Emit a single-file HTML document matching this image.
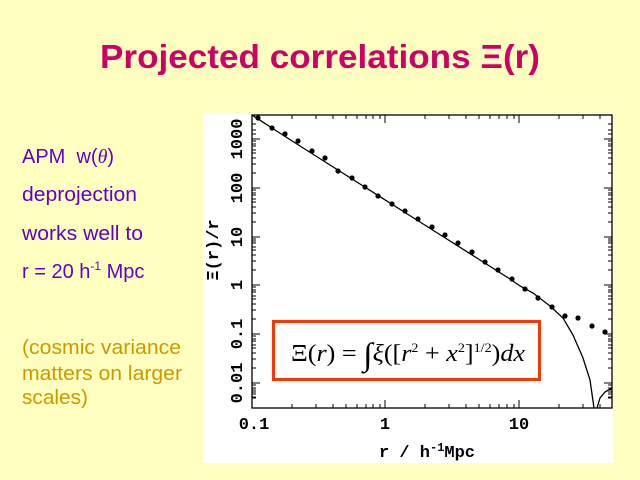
<!DOCTYPE html>
<html><head><meta charset="utf-8"><style>
html,body{margin:0;padding:0;background:#ffffc0;}
svg{display:block;}
</style></head><body>
<svg width="640" height="480" viewBox="0 0 640 480" xmlns="http://www.w3.org/2000/svg">
<rect width="640" height="480" fill="#ffffc0"/>
<text x="320" y="68" text-anchor="middle" font-family="Liberation Sans, sans-serif" font-weight="bold" font-size="33" fill="#cc0066" textLength="440" lengthAdjust="spacingAndGlyphs">Projected correlations Ξ(r)</text>
<g font-family="Liberation Sans, sans-serif" font-size="20" fill="#6600cc">
<text x="22" y="163">APM&#160;&#160;w(<tspan font-family="Liberation Serif, serif" font-style="italic">θ</tspan>)</text>
<text x="22" y="201" textLength="115" lengthAdjust="spacingAndGlyphs">deprojection</text>
<text x="22" y="240" textLength="121" lengthAdjust="spacingAndGlyphs">works well to</text>
<text x="22" y="278">r = 20 h<tspan font-size="12" dy="-8">-1</tspan><tspan dy="8"> Mpc</tspan></text>
</g>
<g font-family="Liberation Sans, sans-serif" font-size="20" fill="#cc9900">
<text x="22" y="354" textLength="159" lengthAdjust="spacingAndGlyphs">(cosmic variance</text>
<text x="22" y="380" textLength="160" lengthAdjust="spacingAndGlyphs">matters on larger</text>
<text x="22" y="404" textLength="66" lengthAdjust="spacingAndGlyphs">scales)</text>
</g>
<rect x="203" y="113" width="410" height="350" fill="#ffffff"/>
<g stroke="#000" stroke-width="1.3" fill="none">
<rect x="252" y="115" width="360" height="293"/>
<path d="M252,115 L275,130 L300,146 L330,165 L360,184 L390,203 L420,222 L450,241 L480,260 L510,279 L520,286 L533,293 L550,306 L563,318 L573,335 L583,358 L590,380 L594,408"/>
<path d="M597,408 L600,398 L605,392 L612,388"/>
</g>
<g stroke="#000" stroke-width="1">
<path d="M385,408v-8M519,408v-8M385,115v8M519,115v8"/>
<path d="M292,408v-4M316,408v-4M333,408v-4M346,408v-4M357,408v-4M366,408v-4M373,408v-4M380,408v-4M425,408v-4M449,408v-4M466,408v-4M479,408v-4M490,408v-4M499,408v-4M507,408v-4M514,408v-4M559,408v-4M583,408v-4M600,408v-4
M292,115v4M316,115v4M333,115v4M346,115v4M357,115v4M366,115v4M373,115v4M380,115v4M425,115v4M449,115v4M466,115v4M479,115v4M490,115v4M499,115v4M507,115v4M514,115v4M559,115v4M583,115v4M600,115v4"/>
<path d="M252,139h8M252,188h8M252,237h8M252,285h8M252,334h8M252,383h8M612,139h-8M612,188h-8M612,237h-8M612,285h-8M612,334h-8M612,383h-8"/>
<path d="M252,124h4M252,130h4M252,134h4M252,173h4M252,164h4M252,158h4M252,153h4M252,150h4M252,146h4M252,144h4M252,141h4
M252,222h4M252,213h4M252,207h4M252,202h4M252,199h4M252,195h4M252,193h4M252,190h4
M252,270h4M252,261h4M252,255h4M252,250h4M252,247h4M252,243h4M252,241h4M252,239h4
M252,319h4M252,310h4M252,304h4M252,299h4M252,296h4M252,292h4M252,290h4M252,287h4
M252,368h4M252,359h4M252,353h4M252,348h4M252,345h4M252,341h4M252,339h4M252,336h4
M252,398h4M252,392h4M252,397h4M252,394h4M252,390h4M252,388h4M252,385h4
M612,124h-4M612,130h-4M612,134h-4M612,173h-4M612,164h-4M612,158h-4M612,153h-4M612,150h-4M612,146h-4M612,144h-4M612,141h-4
M612,222h-4M612,213h-4M612,207h-4M612,202h-4M612,199h-4M612,195h-4M612,193h-4M612,190h-4
M612,270h-4M612,261h-4M612,255h-4M612,250h-4M612,247h-4M612,243h-4M612,241h-4M612,239h-4
M612,319h-4M612,310h-4M612,304h-4M612,299h-4M612,296h-4M612,292h-4M612,290h-4M612,287h-4
M612,368h-4M612,359h-4M612,353h-4M612,348h-4M612,345h-4M612,341h-4M612,339h-4M612,336h-4
M612,398h-4M612,392h-4M612,397h-4M612,394h-4M612,390h-4M612,388h-4M612,385h-4"/>
</g>
<g fill="#000">
<circle cx="258" cy="118" r="2.6"/><circle cx="272" cy="128" r="2.6"/><circle cx="285" cy="134" r="2.6"/><circle cx="298" cy="141" r="2.6"/><circle cx="312" cy="151" r="2.6"/><circle cx="325" cy="158" r="2.6"/><circle cx="338" cy="171" r="2.6"/><circle cx="352" cy="178" r="2.6"/><circle cx="365" cy="187" r="2.6"/><circle cx="378" cy="196" r="2.6"/><circle cx="392" cy="204" r="2.6"/><circle cx="405" cy="211" r="2.6"/><circle cx="418" cy="219" r="2.6"/><circle cx="432" cy="227" r="2.6"/><circle cx="445" cy="235" r="2.6"/><circle cx="458" cy="243" r="2.6"/><circle cx="472" cy="252" r="2.6"/><circle cx="485" cy="262" r="2.6"/><circle cx="498" cy="270" r="2.6"/><circle cx="512" cy="279" r="2.6"/><circle cx="525" cy="289" r="2.6"/><circle cx="538" cy="298" r="2.6"/><circle cx="552" cy="307" r="2.6"/><circle cx="565" cy="316" r="2.6"/><circle cx="578" cy="318" r="2.6"/><circle cx="592" cy="326" r="2.6"/><circle cx="605" cy="332" r="2.6"/>
</g>
<g font-family="Liberation Mono, monospace" font-weight="bold" font-size="17" fill="#000">
<text x="254" y="429" text-anchor="middle">0.1</text>
<text x="385" y="429" text-anchor="middle">1</text>
<text x="519" y="429" text-anchor="middle">10</text>
<text x="427" y="457" text-anchor="middle">r / h<tspan font-size="12" dy="-6">-1</tspan><tspan dy="6">Mpc</tspan></text>
<g transform="translate(242,0)">
<text transform="translate(0,139) rotate(-90)" text-anchor="middle">1000</text>
<text transform="translate(0,188) rotate(-90)" text-anchor="middle">100</text>
<text transform="translate(0,237) rotate(-90)" text-anchor="middle">10</text>
<text transform="translate(0,285) rotate(-90)" text-anchor="middle">1</text>
<text transform="translate(0,334) rotate(-90)" text-anchor="middle">0.1</text>
<text transform="translate(0,383) rotate(-90)" text-anchor="middle">0.01</text>
</g>
<text transform="translate(218,250) rotate(-90)" text-anchor="middle">Ξ(r)/r</text>
</g>
<rect x="273.5" y="321.5" width="266" height="58" fill="#fff" stroke="#ff3300" stroke-width="3"/>
<text x="291" y="361" font-family="Liberation Serif, serif" font-size="24" fill="#000" textLength="234" lengthAdjust="spacingAndGlyphs">Ξ(<tspan font-style="italic">r</tspan>) = <tspan font-size="32" dy="4">∫</tspan><tspan font-style="italic" dy="-4">ξ</tspan>([<tspan font-style="italic">r</tspan><tspan font-size="13" dy="-9">2</tspan><tspan dy="9"> + </tspan><tspan font-style="italic">x</tspan><tspan font-size="13" dy="-9">2</tspan><tspan dy="9">]</tspan><tspan font-size="13" dy="-9">1/2</tspan><tspan dy="9">)</tspan><tspan font-style="italic">dx</tspan></text>
</svg>
</body></html>
